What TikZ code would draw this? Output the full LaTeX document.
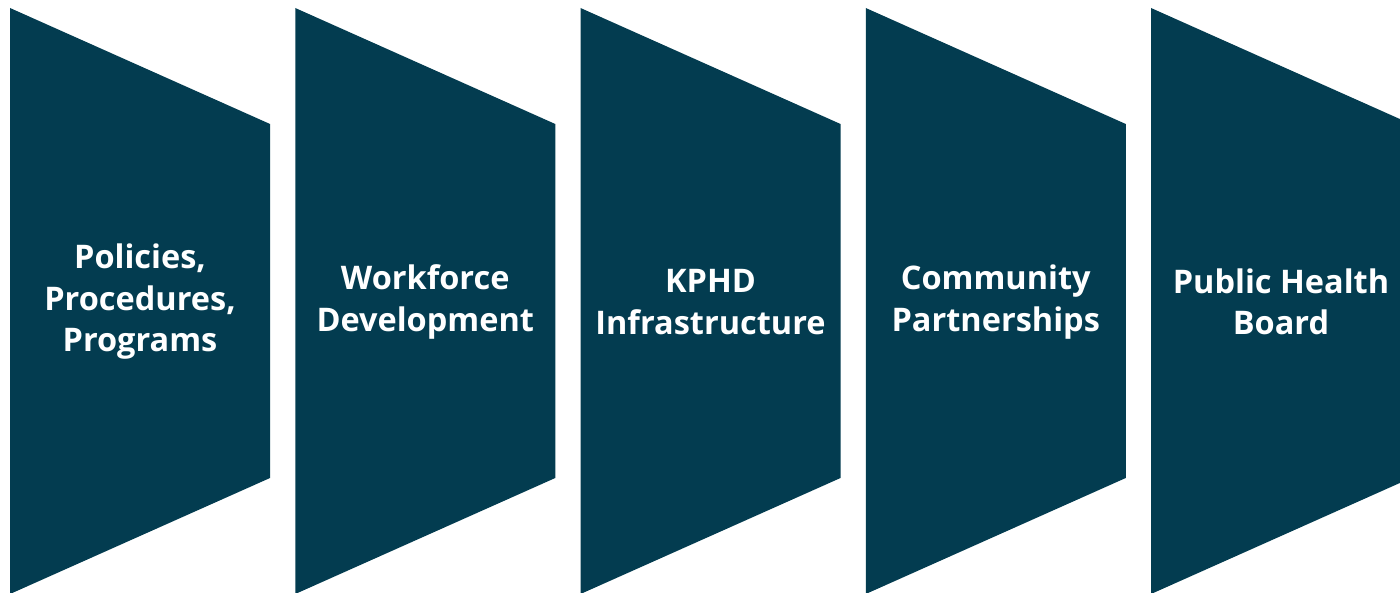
\documentclass[tikz,border=0pt]{standalone}
\usepackage{fontspec}
\setmainfont{Open Sans}
\definecolor{petrol}{RGB}{3,60,80}
\tikzset{
  chev/.style={fill=petrol, draw=none},
  lbl/.style={text=white, font=\fontsize{32.5}{41.5}\selectfont\bfseries, align=center, inner sep=0pt}
}
\begin{document}
\begin{tikzpicture}[x=1pt,y=-1pt]
\useasboundingbox (0,0) rectangle (1400,593);
\clip (0,0) rectangle (1400,593);
\foreach \i/\x in {1/10,2/295.25,3/580.5,4/865.75,5/1151}{
  \fill[chev] (\x,8) -- (\x+260,124) -- (\x+260,478) -- (\x,594) -- cycle;
  \coordinate (c\i) at (\x+130,302);
}
\node[lbl] (t1) at (c1) {Policies,\\Procedures,\\Programs};
\node[lbl] (t2) at (c2) {Workforce\\Development};
\node[lbl] (t3) at (c3) {KPHD\\Infrastructure};
\node[lbl] (t4) at (c4) {Community\\Partnerships};
\node[lbl] (t5) at (c5) {Public Health\\Board};
\end{tikzpicture}
\end{document}
